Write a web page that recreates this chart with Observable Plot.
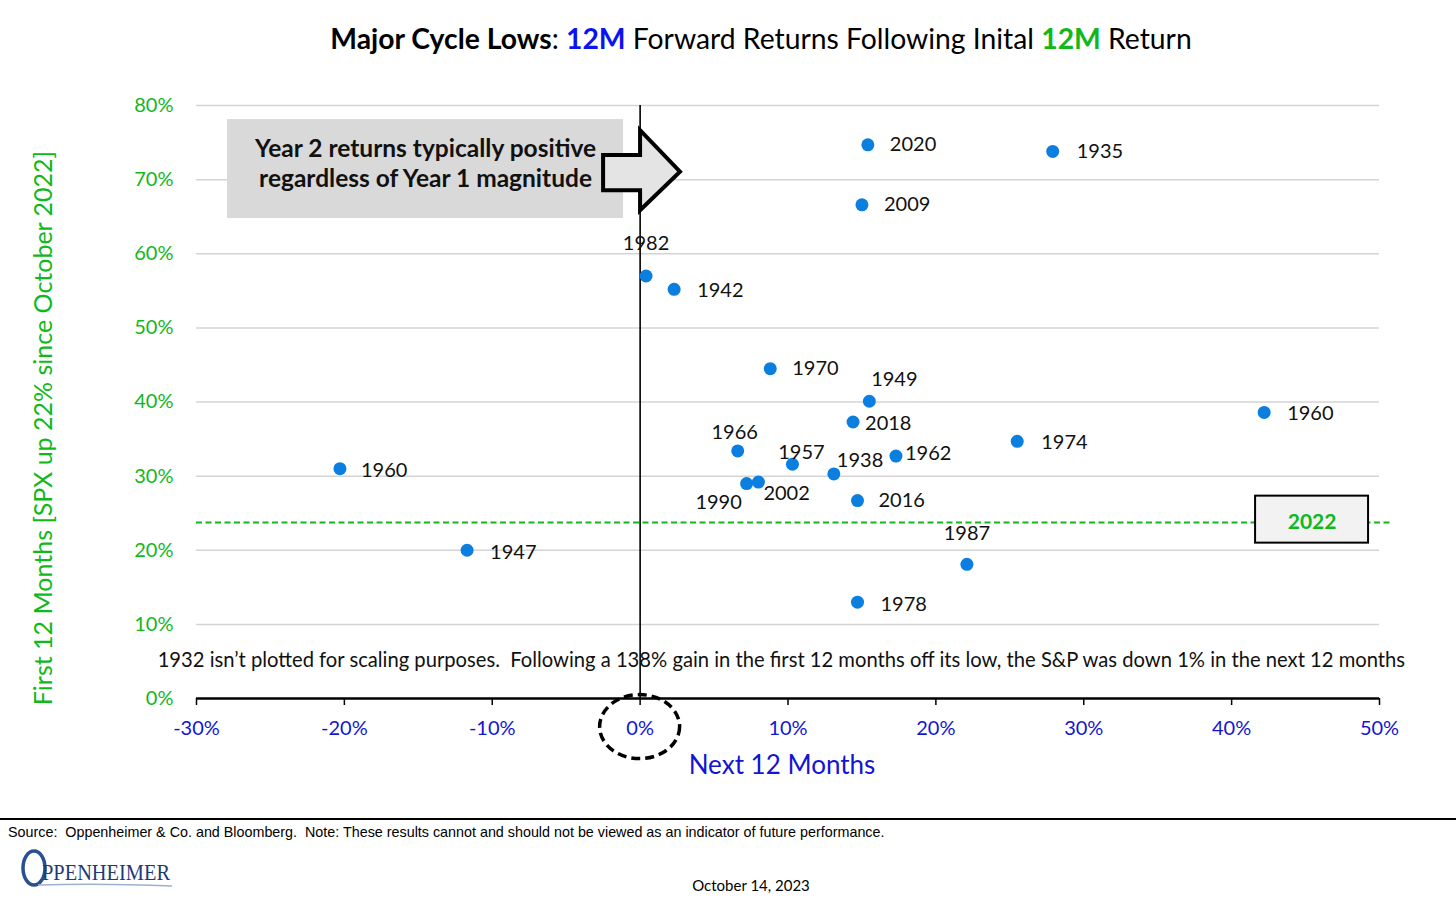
<!DOCTYPE html>
<html>
<head>
<meta charset="utf-8">
<script src="https://cdn.jsdelivr.net/npm/d3@7"></script>
<script src="https://cdn.jsdelivr.net/npm/@observablehq/plot@0.6"></script>
<style>
  html, body { margin: 0; padding: 0; background: #fff; width: 1456px; height: 902px; overflow: hidden; position: relative; font-family: Lato, "Open Sans", sans-serif; }
  #title { position: absolute; left: 261px; width: 1000px; top: 21px; text-align: center; font-size: 28.3px; color: #000; white-space: nowrap; }
  #chart { position: absolute; left: 0; top: 80px; }
  #ytitle { position: absolute; left: -258px; width: 600px; top: 413px; height: 30px; line-height: 30px; text-align: center; transform: rotate(-90deg); transform-origin: 300px 15px; font-size: 25px; color: #11b81a; white-space: nowrap; }
  #rule { position: absolute; left: 0; width: 1456px; top: 818px; height: 2px; background: #000; }
  #source { position: absolute; left: 8px; top: 823px; font-family: "Liberation Sans Narrow", "Liberation Sans", Arial, sans-serif; font-size: 15px; color: #000; white-space: nowrap; transform: scaleX(0.955); transform-origin: left; }
  #date { position: absolute; left: 651px; width: 200px; top: 876px; text-align: center; font-size: 15px; color: #000; }
  #logo { position: absolute; left: 0; top: 840px; }
</style>
</head>
<body>
<div id="title"><b>Major Cycle Lows</b>: <b style="color:#0a14f0">12M</b> Forward Returns Following Inital <b style="color:#11b81a">12M</b> Return</div>
<div id="chart"></div>
<div id="ytitle"></div>
<div id="rule"></div>
<div id="source">Source:&nbsp; Oppenheimer &amp; Co. and Bloomberg.&nbsp; Note: These results cannot and should not be viewed as an indicator of future performance.</div>
<svg id="logo" width="200" height="56">
  <ellipse cx="34" cy="28" rx="11" ry="17" fill="none" stroke="#2a4f93" stroke-width="3.5"/>
  <path d="M38,45 Q100,43 172,46" fill="none" stroke="#9fb0cf" stroke-width="1.5"/>
  <text x="42" y="40" font-family="Liberation Serif, serif" font-size="24" fill="#1f3a78" textLength="128" lengthAdjust="spacingAndGlyphs">PPENHEIMER</text>
</svg>
<div id="date">October 14, 2023</div>
<script>
// ---- Data (percent) ----
const years   = ["2020","1935","2009","1982","1942","1970","1949","2018","1960","1974","1966","1957","1962","1938","1960","1990","2002","2016","1947","1987","1978"];
const next12  = [15.4, 27.9, 15.0, 0.4, 2.3, 8.8, 15.5, 14.4, 42.2, 25.5, 6.6, 10.3, 17.3, 13.1, -20.3, 7.2, 8.0, 14.7, -11.7, 22.1, 14.7];
const first12 = [74.7, 73.8, 66.6, 57.0, 55.2, 44.5, 40.1, 37.3, 38.6, 34.7, 33.4, 31.6, 32.7, 30.3, 31.0, 29.0, 29.2, 26.7, 20.0, 18.1, 13.0];
const xTicks = [-30, -20, -10, 0, 10, 20, 30, 40, 50];
const yTicks = [0, 10, 20, 30, 40, 50, 60, 70, 80];
const line2022 = 23.76;           // first-12-month return of the 2022 cycle
const label2022 = "2022";
const note1932 = "1932 isn\u2019t plotted for scaling purposes.  Following a 138% gain in the first 12 months off its low, the S&P was down 1% in the next 12 months";
const boxText = "Year 2 returns typically positive\nregardless of Year 1 magnitude";
const yTitle = "First 12 Months [SPX up 22% since October 2022]";
const xTitle = "Next 12 Months";

// ---- Layout (label placement per point: dx, dy, anchor) ----
const labelLayout = [
  [22, 0, "start"], [24, 0, "start"], [22, 0, "start"], [0, -32, "middle"], [23, 1, "start"],
  [22, 0, "start"], [25, -22, "middle"], [12, 2, "start"], [23, 1, "start"], [24, 1, "start"],
  [-3, -18, "middle"], [9, -12, "middle"], [9, -3, "start"], [3, -13, "start"], [21, 2, "start"],
  [-28, 19, "middle"], [5, 12, "start"], [21, 0, "start"], [23, 2, "start"], [0, -31, "middle"],
  [23, 2, "start"]
];
// annotation geometry in data units
const calloutBox = {x1: -27.9, x2: -1.12, y1: 64.75, y2: 78.1};
const calloutArrow = [[-2.47, 73.25], [0.03, 73.25], [0.03, 76.6], [2.73, 71.0], [0.03, 65.8], [0.03, 68.5], [-2.47, 68.5]];
const box2022 = {x1: 41.62, x2: 49.26, y1: 20.96, y2: 27.3};
const notePos = {x: 9.55, y: 5.18};
const circleZero = {x: 0, y: -3.86, rx: 40, ry: 32};

const GREEN = "#11b81a", BLUE = "#1414d2", DOT = "#0b7fe0";

document.getElementById("ytitle").textContent = yTitle;

const pts = years.map((y, i) => i);

const labelMarks = labelLayout.map((l, i) => Plot.text([i], {
  x: j => next12[j], y: j => first12[j], text: j => years[j],
  dx: l[0], dy: l[1], textAnchor: l[2], fontSize: 20, fill: "#111"
}));

const arrowMark = (index, scales) => {
  const g = d3.create("svg:g");
  g.append("path")
    .attr("d", "M" + calloutArrow.map(p => [scales.x(p[0]), scales.y(p[1])].join(",")).join("L") + "Z")
    .attr("fill", "#e4e4e4").attr("stroke", "#000").attr("stroke-width", 4).attr("stroke-linejoin", "miter");
  return g.node();
};
const ellipseMark = (index, scales) => {
  const g = d3.create("svg:g");
  g.append("ellipse")
    .attr("cx", scales.x(circleZero.x)).attr("cy", scales.y(circleZero.y))
    .attr("rx", circleZero.rx).attr("ry", circleZero.ry)
    .attr("fill", "none").attr("stroke", "#000").attr("stroke-width", 3.5).attr("stroke-dasharray", "9,5");
  return g.node();
};

const chart = Plot.plot({
  width: 1456, height: 710,
  marginTop: 25, marginBottom: 92, marginLeft: 196, marginRight: 77,
  style: {fontFamily: "Lato, 'Open Sans', sans-serif", background: "transparent", overflow: "visible"},
  x: {domain: [-30, 50], axis: null},
  y: {domain: [0, 80], axis: null},
  marks: [
    Plot.ruleY(yTicks.filter(d => d > 0), {y: d => d, stroke: "#d4d4d4", strokeWidth: 1.5}),
    Plot.text(yTicks, {y: d => d, text: d => d + "%", frameAnchor: "left", dx: -23, textAnchor: "end", fill: GREEN, fontSize: 20}),
    Plot.text(xTicks, {x: d => d, y: () => 0, text: d => d + "%", dy: 30, fill: BLUE, fontSize: 20}),
    Plot.ruleX(xTicks, {x: d => d, y1: () => 0, y2: () => 0, insetBottom: -7, stroke: "#000", strokeWidth: 1.5}),
    Plot.ruleY([0], {stroke: "#000", strokeWidth: 2.5}),
    Plot.ruleX([0], {stroke: "#000", strokeWidth: 1.6}),
    Plot.ruleY([line2022], {y: d => d, stroke: GREEN, strokeWidth: 2, strokeDasharray: "6,3.5", insetRight: -13}),
    Plot.rect([calloutBox], {x1: "x1", x2: "x2", y1: "y1", y2: "y2", fill: "#d9d9d9"}),
    Plot.text([boxText], {x: (calloutBox.x1 + calloutBox.x2) / 2, y: (calloutBox.y1 + calloutBox.y2) / 2, text: d => d, dy: -7, fontSize: 24.5, fontWeight: "bold", fill: "#111", lineHeight: 1.25}),
    arrowMark,
    Plot.rect([box2022], {x1: "x1", x2: "x2", y1: "y1", y2: "y2", fill: "#f2f2f2", stroke: "#000", strokeWidth: 2}),
    Plot.text([label2022], {x: (box2022.x1 + box2022.x2) / 2, y: line2022, text: d => d, fill: GREEN, fontWeight: "bold", fontSize: 21}),
    Plot.text([note1932], {x: notePos.x, y: notePos.y, text: d => d, fontSize: 20.2, fill: "#111"}),
    Plot.dot(pts, {x: i => next12[i], y: i => first12[i], r: 6.5, fill: DOT}),
    ...labelMarks,
    ellipseMark,
    Plot.text([xTitle], {frameAnchor: "bottom", lineAnchor: "middle", dy: 67, dx: -6, text: d => d, fill: BLUE, fontSize: 26})
  ]
});
document.getElementById("chart").appendChild(chart);
</script>
</body>
</html>
